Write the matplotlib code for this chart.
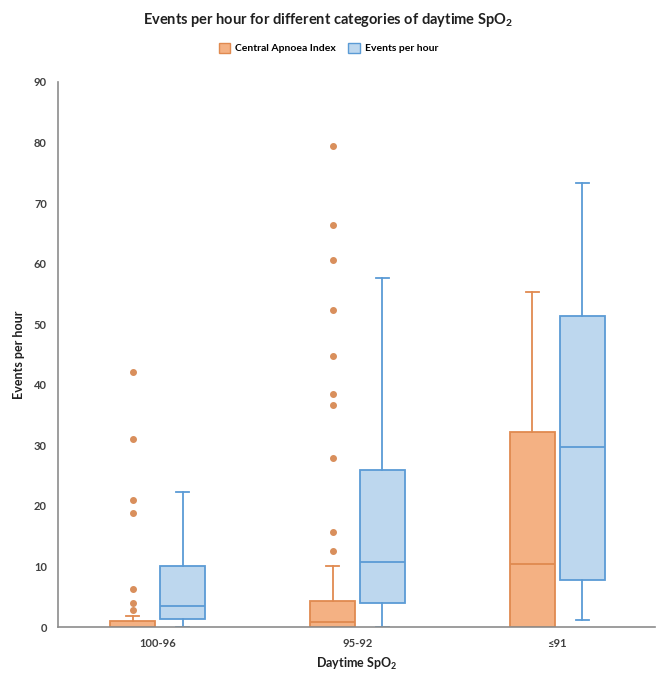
import matplotlib
matplotlib.use("Agg")
import matplotlib.pyplot as plt
from matplotlib.patches import Patch

plt.rcParams['font.family'] = ['Lato', 'DejaVu Sans']
plt.rcParams['mathtext.fontset'] = 'custom'
plt.rcParams['mathtext.rm'] = 'Lato'
plt.rcParams['mathtext.bf'] = 'Lato:bold'

# Kategorien und Boxplot-Kennwerte
categories = ['100-96', '95-92', '≤91']
series = ['Central Apnoea Index', 'Events per hour']

cai_whislo = [0.0, 0.0, 0.0]
cai_q1 = [0.0, 0.0, 0.0]
cai_med = [0.0, 0.8, 10.4]
cai_q3 = [1.0, 4.3, 32.2]
cai_whishi = [1.8, 10.1, 55.3]
cai_fliers = [
    [42.1, 31.0, 20.9, 18.8, 6.3, 4.0, 2.8],
    [79.4, 66.4, 60.6, 52.4, 44.7, 38.4, 36.6, 27.9, 15.7, 12.5],
    [],
]

eph_whislo = [0.0, 0.0, 1.1]
eph_q1 = [1.3, 4.0, 7.8]
eph_med = [3.5, 10.8, 29.7]
eph_q3 = [10.0, 25.9, 51.4]
eph_whishi = [22.3, 57.6, 73.3]
eph_fliers = [[], [], []]

orange_fill = '#F4B183'
orange_edge = '#E08A50'
blue_fill = '#BDD7EE'
blue_edge = '#5B9BD5'


def make_stats(lo, q1, med, q3, hi, fl):
    out = []
    for i in range(len(lo)):
        out.append({'whislo': lo[i], 'q1': q1[i], 'med': med[i],
                    'q3': q3[i], 'whishi': hi[i], 'fliers': fl[i]})
    return out


fig = plt.figure(figsize=(6.57, 6.77), dpi=100)
ax = fig.add_axes([58/657, 1-627/677, (655-58)/657, (627-82)/677])

pos = list(range(len(categories)))
offset = 0.125
width = 0.225

for stats, shift, fc, ec in [
        (make_stats(cai_whislo, cai_q1, cai_med, cai_q3, cai_whishi, cai_fliers), -offset, orange_fill, orange_edge),
        (make_stats(eph_whislo, eph_q1, eph_med, eph_q3, eph_whishi, eph_fliers), offset, blue_fill, blue_edge)]:
    ax.bxp(stats, positions=[p + shift for p in pos], widths=width,
           capwidths=0.065, patch_artist=True, showfliers=True,
           boxprops=dict(facecolor=fc, edgecolor=ec, linewidth=1.3),
           medianprops=dict(color=ec, linewidth=1.3),
           whiskerprops=dict(color=ec, linewidth=1.3),
           capprops=dict(color=ec, linewidth=1.3),
           flierprops=dict(marker='o', markerfacecolor='#D98F5C',
                           markeredgecolor='#D98F5C', markersize=4),
           manage_ticks=False)

ax.set_xlim(-0.5, 2.49)
ax.set_ylim(0, 90)
ax.set_yticks(range(0, 91, 10))
ax.set_xticks(pos)
ax.set_xticklabels(categories)
ax.tick_params(length=0, labelsize=8, colors='#404040', pad=8)
for lab in ax.get_xticklabels() + ax.get_yticklabels():
    lab.set_fontweight('bold')

for s in ['top', 'right']:
    ax.spines[s].set_visible(False)
for s in ['left', 'bottom']:
    ax.spines[s].set_color('#8C8C8C')
    ax.spines[s].set_linewidth(1.2)

ax.set_ylabel('Events per hour', fontsize=9, fontweight='bold', color='#202020', labelpad=6)
ax.set_xlabel(r'Daytime SpO$_\mathbf{2}$', fontsize=9, fontweight='bold', color='#202020', labelpad=5)

fig.text(0.5, 1-20/677, r'Events per hour for different categories of daytime SpO$_\mathbf{2}$',
         ha='center', va='center', fontsize=10.5, fontweight='bold', color='#202020')

handles = [Patch(facecolor=orange_fill, edgecolor=orange_edge, label=series[0]),
           Patch(facecolor=blue_fill, edgecolor=blue_edge, label=series[1])]
fig.legend(handles=handles, loc='center', bbox_to_anchor=(0.5, 1-48/677), ncol=2,
           frameon=False, prop=dict(size=7.5, weight='bold'), handlelength=1.1,
           handleheight=1.1, columnspacing=1.2, handletextpad=0.5)

fig.savefig('out.png', dpi=100)
